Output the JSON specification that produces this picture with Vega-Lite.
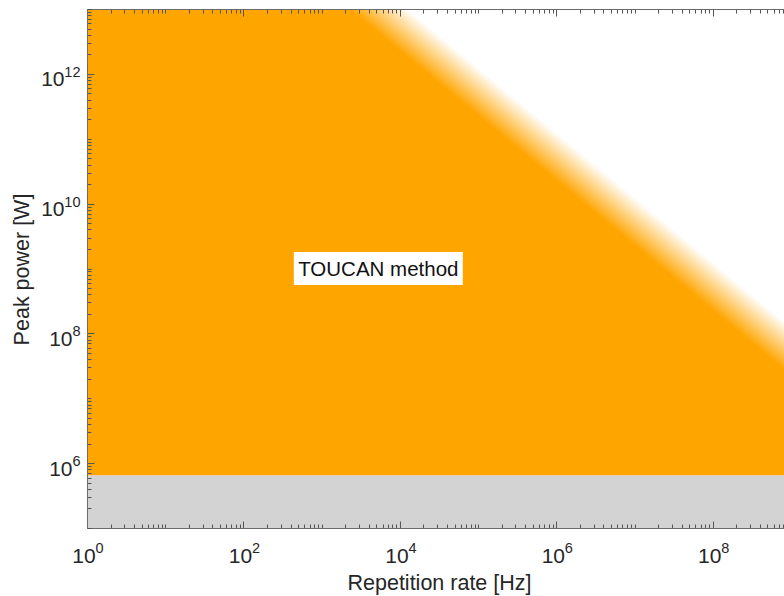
{
  "$schema": "https://vega.github.io/schema/vega-lite/v6.json",
  "width": 704,
  "height": 519,
  "autosize": {"type": "none"},
  "padding": {"left": 87, "top": 9, "right": 0, "bottom": 68},
  "background": "#ffffff",
  "config": {
    "view": {"stroke": null},
    "axis": {
      "grid": false,
      "labelFont": "Liberation Sans",
      "titleFont": "Liberation Sans",
      "labelColor": "#262626",
      "titleColor": "#262626",
      "domainColor": "#6b6b6b",
      "tickColor": "#555555",
      "labelOverlap": false,
      "labelFlush": false,
      "labelBound": false
    }
  },
  "datasets": {
    "floor": [{"f0": 1, "f1": 1e9, "p0": 1e5, "p1": 6.5e5}],
    "reach": [
      {"f": 1, "p": 2.5e16, "floor": 6.5e5},
      {"f": 1e9, "p": 2.5e7, "floor": 6.5e5}
    ],
    "edge": [
      {"f": 1e3, "lo": 2.24e13, "hi": 1.26e14},
      {"f": 1e9, "lo": 2.24e7, "hi": 1.26e8}
    ],
    "note": [{"f": 5300, "p": 1e9, "text": "TOUCAN method"}]
  },
  "resolve": {"axis": {"x": "independent", "y": "independent"}},
  "layer": [
    {
      "data": {"name": "floor"},
      "mark": {"type": "rect", "fill": "#d3d3d3", "clip": true},
      "encoding": {
        "x": {
          "field": "f0", "type": "quantitative",
          "scale": {"type": "log", "domain": [1, 1e9], "nice": false},
          "axis": {
            "orient": "bottom",
            "values": [1,2,3,4,5,6,7,8,9,10,20,30,40,50,60,70,80,90,100,200,300,400,500,600,700,800,900,1000,2000,3000,4000,5000,6000,7000,8000,9000,1e4,2e4,3e4,4e4,5e4,6e4,7e4,8e4,9e4,1e5,2e5,3e5,4e5,5e5,6e5,7e5,8e5,9e5,1e6,2e6,3e6,4e6,5e6,6e6,7e6,8e6,9e6,1e7,2e7,3e7,4e7,5e7,6e7,7e7,8e7,9e7,1e8,2e8,3e8,4e8,5e8,6e8,7e8,8e8,9e8,1e9],
            "tickSize": {"condition": {"test": "indexof([1, 100, 10000, 1000000, 100000000], datum.value) >= 0", "value": -7}, "value": -4},
            "labels": false,
            "domain": true,
            "zindex": 1,
            "title": "Repetition rate [Hz]",
            "titleFontSize": 21.5,
            "titleFontWeight": "normal",
            "titleBaseline": "alphabetic",
            "titleAlign": "center",
            "titleX": 352,
            "titleY": 61
          }
        },
        "x2": {"field": "f1"},
        "y": {
          "field": "p0", "type": "quantitative",
          "scale": {"type": "log", "domain": [1e5, 1e13], "nice": false},
          "axis": {
            "orient": "left",
            "values": [1e5,2e5,3e5,4e5,5e5,6e5,7e5,8e5,9e5,1e6,2e6,3e6,4e6,5e6,6e6,7e6,8e6,9e6,1e7,2e7,3e7,4e7,5e7,6e7,7e7,8e7,9e7,1e8,2e8,3e8,4e8,5e8,6e8,7e8,8e8,9e8,1e9,2e9,3e9,4e9,5e9,6e9,7e9,8e9,9e9,1e10,2e10,3e10,4e10,5e10,6e10,7e10,8e10,9e10,1e11,2e11,3e11,4e11,5e11,6e11,7e11,8e11,9e11,1e12,2e12,3e12,4e12,5e12,6e12,7e12,8e12,9e12,1e13],
            "tickSize": {"condition": {"test": "indexof([1000000, 100000000, 10000000000, 1000000000000], datum.value) >= 0", "value": -7}, "value": -4},
            "labels": false,
            "domain": true,
            "zindex": 1,
            "title": "Peak power [W]",
            "titleFontSize": 21.5,
            "titleFontWeight": "normal",
            "titleBaseline": "alphabetic",
            "titleAlign": "center",
            "titleAngle": -90,
            "titleX": -59,
            "titleY": 260
          }
        },
        "y2": {"field": "p1"}
      }
    },
    {
      "data": {"name": "reach"},
      "mark": {"type": "area", "fill": "#ffa500", "clip": true, "orient": "vertical"},
      "encoding": {
        "x": {
          "field": "f", "type": "quantitative",
          "scale": {"type": "log", "domain": [1, 1e9], "nice": false},
          "axis": {
            "orient": "top",
            "values": [1,2,3,4,5,6,7,8,9,10,20,30,40,50,60,70,80,90,100,200,300,400,500,600,700,800,900,1000,2000,3000,4000,5000,6000,7000,8000,9000,1e4,2e4,3e4,4e4,5e4,6e4,7e4,8e4,9e4,1e5,2e5,3e5,4e5,5e5,6e5,7e5,8e5,9e5,1e6,2e6,3e6,4e6,5e6,6e6,7e6,8e6,9e6,1e7,2e7,3e7,4e7,5e7,6e7,7e7,8e7,9e7,1e8,2e8,3e8,4e8,5e8,6e8,7e8,8e8,9e8,1e9],
            "tickSize": {"condition": {"test": "indexof([1, 100, 10000, 1000000, 100000000], datum.value) >= 0", "value": -7}, "value": -4},
            "labels": false,
            "domain": true,
            "zindex": 1,
            "title": null
          }
        },
        "y": {
          "field": "p", "type": "quantitative",
          "scale": {"type": "log", "domain": [1e5, 1e13], "nice": false},
          "axis": null
        },
        "y2": {"field": "floor"}
      }
    },
    {
      "data": {"name": "edge"},
      "mark": {
        "type": "area",
        "clip": true,
        "orient": "vertical",
        "fill": {
          "gradient": "linear",
          "x1": 0, "y1": 0.1111, "x2": 0.0552, "y2": 0.049,
          "stops": [
            {"offset": 0, "color": "#ffa500"},
            {"offset": 1, "color": "#ffffff"}
          ]
        }
      },
      "encoding": {
        "x": {
          "field": "f", "type": "quantitative",
          "scale": {"type": "log", "domain": [1, 1e9], "nice": false},
          "axis": {
            "orient": "bottom",
            "values": [1, 100, 1e4, 1e6, 1e8],
            "ticks": false, "tickSize": 0, "domain": false,
            "labelExpr": "'10'",
            "labelFontSize": 21,
            "labelAlign": "center",
            "labelBaseline": "alphabetic",
            "labelPadding": 34,
            "labelOffset": -3.5,
            "title": null
          }
        },
        "y": {
          "field": "hi", "type": "quantitative",
          "scale": {"type": "log", "domain": [1e5, 1e13], "nice": false},
          "axis": {
            "orient": "left",
            "values": [1e6, 1e8, 1e10, 1e12],
            "ticks": false, "tickSize": 0, "domain": false,
            "labelExpr": "'10'",
            "labelFontSize": 21,
            "labelAlign": "right",
            "labelBaseline": "alphabetic",
            "labelPadding": {"condition": {"test": "datum.value >= 1e10", "value": 23}, "value": 15},
            "labelOffset": 12,
            "title": null
          }
        },
        "y2": {"field": "lo"}
      }
    },
    {
      "data": {"name": "note"},
      "mark": {"type": "rect", "fill": "#ffffff", "xOffset": -84.5, "x2Offset": 84.5, "yOffset": -16.5, "y2Offset": 16.5},
      "encoding": {
        "x": {
          "field": "f", "type": "quantitative",
          "scale": {"type": "log", "domain": [1, 1e9], "nice": false},
          "axis": {
            "orient": "bottom",
            "values": [1, 100, 1e4, 1e6, 1e8],
            "ticks": false, "tickSize": 0, "domain": false,
            "labelExpr": "'' + round(log(datum.value) / LN10)",
            "labelFontSize": 14.5,
            "labelAlign": "left",
            "labelBaseline": "alphabetic",
            "labelPadding": 24,
            "labelOffset": 8,
            "title": null
          }
        },
        "x2": {"field": "f"},
        "y": {
          "field": "p", "type": "quantitative",
          "scale": {"type": "log", "domain": [1e5, 1e13], "nice": false},
          "axis": {
            "orient": "left",
            "values": [1e6, 1e8, 1e10, 1e12],
            "ticks": false, "tickSize": 0, "domain": false,
            "labelExpr": "'' + round(log(datum.value) / LN10)",
            "labelFontSize": 14.5,
            "labelAlign": "right",
            "labelBaseline": "alphabetic",
            "labelPadding": 7,
            "labelOffset": 2.5,
            "title": null
          }
        },
        "y2": {"field": "p"}
      }
    },
    {
      "data": {"name": "note"},
      "mark": {"type": "text", "font": "Liberation Sans", "fontSize": 20.5, "color": "#111111", "align": "center", "baseline": "middle", "dy": 1.5},
      "encoding": {
        "x": {
          "field": "f", "type": "quantitative",
          "scale": {"type": "log", "domain": [1, 1e9], "nice": false},
          "axis": null
        },
        "y": {
          "field": "p", "type": "quantitative",
          "scale": {"type": "log", "domain": [1e5, 1e13], "nice": false},
          "axis": null
        },
        "text": {"field": "text"}
      }
    }
  ]
}
